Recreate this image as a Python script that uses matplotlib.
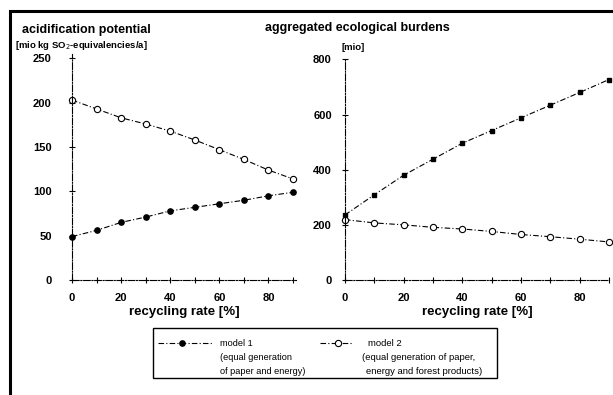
import matplotlib
matplotlib.use("Agg")
import matplotlib.pyplot as plt
from matplotlib.lines import Line2D
from matplotlib.patches import Rectangle

plt.rcParams['font.family'] = ['Liberation Sans', 'DejaVu Sans']

# ---- data ----
recycling_rate = [0, 10, 20, 30, 40, 50, 60, 70, 80, 90]
acid_model1 = [49, 56, 65, 71, 78, 82, 86, 90, 95, 99]
acid_model2 = [203, 193, 183, 176, 168, 158, 147, 136, 124, 114]
agg_model1 = [236, 309, 380, 438, 496, 542, 588, 634, 680, 727]
agg_model2 = [219, 207, 200, 191, 185, 176, 165, 157, 148, 138]

left_yticks = [0, 50, 100, 150, 200, 250]
right_yticks = [0, 200, 400, 600, 800]
x_major = [0, 20, 40, 60, 80]
x_minor = [10, 30, 50, 70, 90]

W, H = 613, 395
fig = plt.figure(figsize=(W / 100, H / 100), dpi=100)

def fx(px):
    return px / W

def fy(py):
    return 1 - py / H

# outer frame
fig.add_artist(Rectangle((fx(10), fy(400)), fx(620) - fx(10), fy(11) - fy(400),
                         transform=fig.transFigure, fill=False, lw=2.2, ec='black'))

axL = fig.add_axes([fx(72), fy(280), fx(296) - fx(72), fy(54) - fy(280)])
axR = fig.add_axes([fx(345), fy(280), fx(609) - fx(345), fy(58) - fy(280)])

ls_line = (0, (5, 2, 1, 2))
for ax, m1, m2, yt, ylim, ypad, xmax, m1marker, m1size in [
    (axL, acid_model1, acid_model2, left_yticks, 255, 12, 91.2, 'o', 3.8),
    (axR, agg_model1, agg_model2, right_yticks, 805, 7, 90, 's', 3.3),
]:
    ax.plot(recycling_rate, m1, linestyle=ls_line, color='black', lw=0.8,
            marker=m1marker, markersize=m1size, markerfacecolor='black', markeredgecolor='black',
            clip_on=False)
    ax.plot(recycling_rate, m2, linestyle=ls_line, color='black', lw=0.8,
            marker='o', markersize=4.5, markerfacecolor='white', markeredgecolor='black',
            markeredgewidth=0.8, clip_on=False)
    ax.set_xlim(0, xmax)
    ax.set_ylim(0, ylim)
    for s in ['top', 'right']:
        ax.spines[s].set_visible(False)
    for s in ['left', 'bottom']:
        ax.spines[s].set_linewidth(0.8)
        ax.spines[s].set_linestyle((0, (6, 1.5, 1, 1.5)))
    ax.set_xticks(x_major)
    ax.set_xticks(x_minor, minor=True)
    ax.set_yticks(yt)
    ax.tick_params(axis='both', which='both', direction='inout', length=5, width=0.8,
                   labelsize=8)
    ax.tick_params(axis='y', pad=ypad)
    ax.tick_params(axis='x', pad=7)
    for lab in ax.get_xticklabels() + ax.get_yticklabels():
        lab.set_fontweight('bold')
    ax.set_xlabel('recycling rate [%]', fontsize=9.5, fontweight='bold', labelpad=2)

# titles
fig.text(fx(22), fy(30), 'acidification potential', fontsize=9, fontweight='bold',
         ha='left', va='center')
fig.text(fx(265), fy(28), 'aggregated ecological burdens', fontsize=9, fontweight='bold',
         ha='left', va='center')
fig.text(fx(15), fy(46), '[mio kg SO$_2$-equivalencies/a]', fontsize=6.8, fontweight='bold',
         ha='left', va='center')
fig.text(fx(342), fy(47), '[mio]', fontsize=6.8, fontweight='bold', ha='left', va='center')

# legend (manual box)
fig.add_artist(Rectangle((fx(153), fy(378)), fx(497) - fx(153), fy(328) - fy(378),
                         transform=fig.transFigure, fill=False, lw=1.0, ec='black'))
fig.add_artist(Line2D([fx(158), fx(213)], [fy(343), fy(343)], transform=fig.transFigure,
                      color='black', lw=0.8, linestyle=ls_line))
fig.add_artist(Line2D([fx(182)], [fy(343)], transform=fig.transFigure, marker='o',
                      markersize=3.8, color='black'))
fig.add_artist(Line2D([fx(320), fx(352)], [fy(343), fy(343)], transform=fig.transFigure,
                      color='black', lw=0.8, linestyle=ls_line))
fig.add_artist(Line2D([fx(338)], [fy(343)], transform=fig.transFigure, marker='o',
                      markersize=4.5, markerfacecolor='white', markeredgecolor='black',
                      markeredgewidth=0.8))
fs1 = 6.6
fs2 = 6.8
fig.text(fx(220), fy(343), 'model 1', fontsize=fs1, ha='left', va='center')
fig.text(fx(220), fy(357), '(equal generation', fontsize=fs1, ha='left', va='center')
fig.text(fx(220), fy(371), 'of paper and energy)', fontsize=fs1, ha='left', va='center')
fig.text(fx(368), fy(343), 'model 2', fontsize=fs2, ha='left', va='center')
fig.text(fx(362), fy(357), '(equal generation of paper,', fontsize=fs2, ha='left', va='center')
fig.text(fx(366), fy(371), 'energy and forest products)', fontsize=fs2, ha='left', va='center')

fig.savefig('out.png', dpi=100)
